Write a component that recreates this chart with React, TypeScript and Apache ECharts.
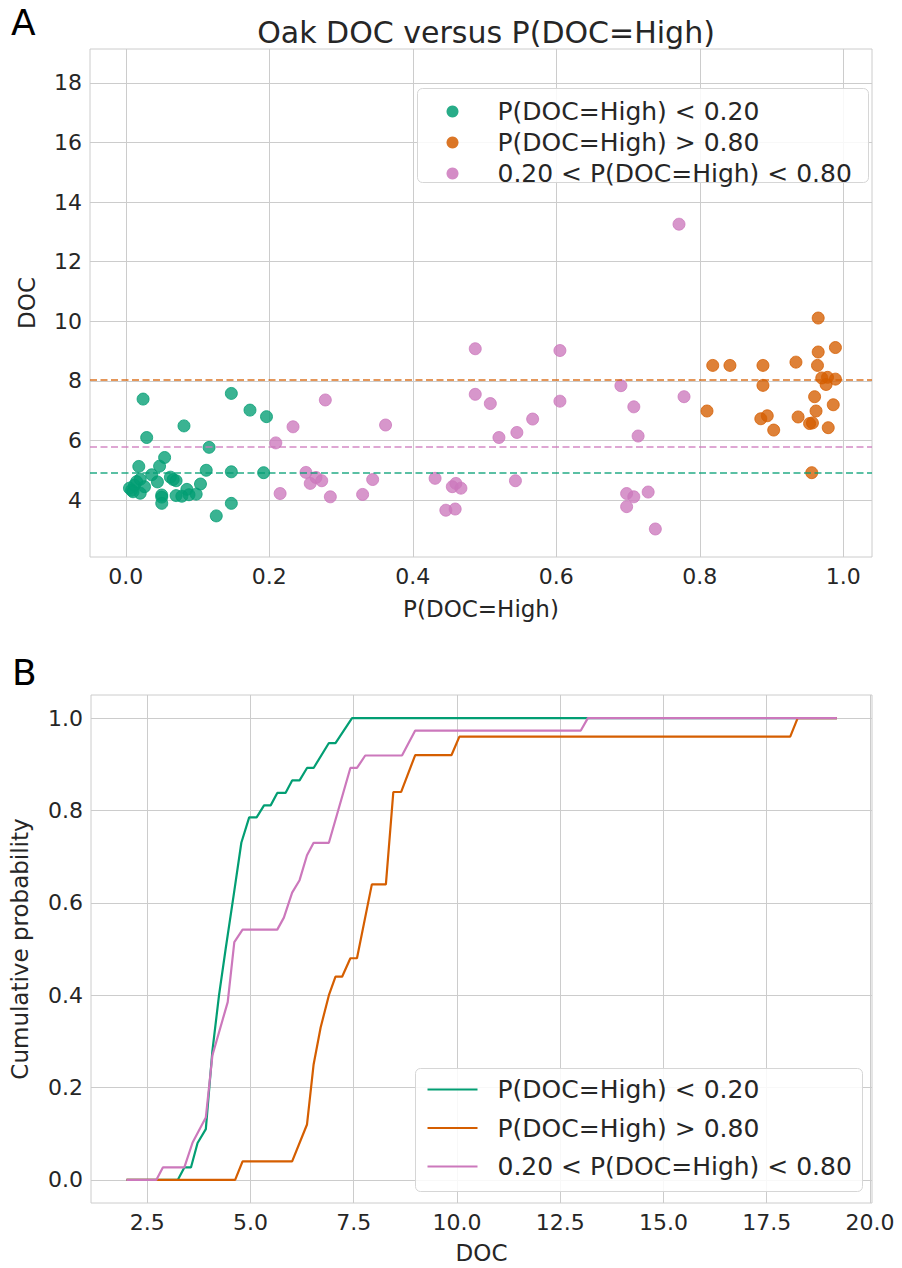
import React, { useEffect, useRef } from "react";
import * as echarts from "echarts";

// ---------- Data ----------
const GREEN = "#029e73";
const ORANGE = "#d55e00";
const PINK = "#cc78bc";

const legendNames = ["P(DOC=High) < 0.20", "P(DOC=High) > 0.80", "0.20 < P(DOC=High) < 0.80"];

// Panel A scatter: P(DOC=High) and DOC
const lowProb = [0.005, 0.008, 0.012, 0.015, 0.02, 0.02, 0.018, 0.024, 0.029, 0.026, 0.036, 0.044, 0.047, 0.054, 0.05, 0.05, 0.05, 0.062, 0.066, 0.07, 0.07, 0.081, 0.078, 0.085, 0.088, 0.098, 0.104, 0.112, 0.116, 0.126, 0.147, 0.147, 0.147, 0.173, 0.192, 0.196, 0.01];
const lowDoc = [4.4, 4.33, 4.5, 4.62, 4.7, 4.23, 5.13, 7.39, 6.1, 4.45, 4.85, 4.61, 5.14, 5.43, 4.17, 4.1, 3.89, 4.77, 4.69, 4.15, 4.65, 6.49, 4.13, 4.36, 4.18, 4.2, 4.54, 5.0, 5.77, 3.47, 7.58, 4.95, 3.89, 7.02, 4.92, 6.8, 4.28];

const highProb = [0.965, 0.989, 0.965, 0.818, 0.842, 0.888, 0.934, 0.964, 0.978, 0.989, 0.976, 0.888, 0.96, 0.986, 0.81, 0.962, 0.937, 0.894, 0.885, 0.953, 0.957, 0.903, 0.979, 0.956, 0.97];
const highDoc = [10.11, 9.12, 8.97, 8.52, 8.52, 8.52, 8.63, 8.52, 8.12, 8.06, 7.88, 7.85, 7.47, 7.2, 6.99, 6.99, 6.79, 6.83, 6.73, 6.57, 6.59, 6.35, 6.43, 4.92, 8.1];

const midProb = [0.209, 0.215, 0.233, 0.251, 0.257, 0.265, 0.273, 0.278, 0.285, 0.33, 0.344, 0.362, 0.431, 0.446, 0.459, 0.455, 0.46, 0.467, 0.487, 0.487, 0.508, 0.52, 0.543, 0.545, 0.567, 0.605, 0.605, 0.69, 0.698, 0.708, 0.698, 0.708, 0.714, 0.728, 0.738, 0.771, 0.778];
const midDoc = [5.92, 4.22, 6.46, 4.93, 4.56, 4.76, 4.65, 7.36, 4.11, 4.19, 4.69, 6.52, 4.73, 3.66, 3.7, 4.45, 4.56, 4.4, 9.08, 7.55, 7.24, 6.1, 4.65, 6.27, 6.72, 9.02, 7.32, 7.84, 4.22, 4.11, 3.78, 7.13, 6.15, 4.27, 3.03, 13.26, 7.47];

// Median DOC per group (dashed lines): low, high, mid
const medianDoc = [4.93, 8.03, 5.79];

// Panel B cumulative curves
const lowCdfX = [2.0, 3.24, 3.4, 3.56, 3.72, 3.92, 4.08, 4.24, 4.4, 4.6, 4.78, 4.97, 5.15, 5.33, 5.49, 5.65, 5.85, 6.01, 6.19, 6.37, 6.53, 6.9, 7.06, 7.46, 19.2];
const lowCdfY = [0, 0, 0.027, 0.027, 0.08, 0.11, 0.28, 0.4, 0.5, 0.62, 0.73, 0.785, 0.785, 0.811, 0.811, 0.838, 0.838, 0.865, 0.865, 0.892, 0.892, 0.946, 0.946, 1.0, 1.0];

const highCdfX = [2.0, 4.63, 4.81, 6.01, 6.37, 6.53, 6.7, 6.9, 7.06, 7.22, 7.42, 7.58, 7.94, 8.28, 8.46, 8.65, 8.99, 9.87, 10.06, 18.07, 18.25, 19.2];
const highCdfY = [0, 0, 0.04, 0.04, 0.12, 0.25, 0.33, 0.4, 0.44, 0.44, 0.48, 0.48, 0.64, 0.64, 0.84, 0.84, 0.92, 0.92, 0.96, 0.96, 1.0, 1.0];

const midCdfX = [2.0, 2.72, 2.88, 3.4, 3.6, 3.92, 4.08, 4.45, 4.61, 4.81, 5.65, 5.81, 6.01, 6.19, 6.37, 6.53, 6.9, 7.42, 7.58, 7.78, 8.67, 8.99, 13.0, 13.17, 19.2];
const midCdfY = [0, 0, 0.027, 0.027, 0.081, 0.135, 0.27, 0.385, 0.515, 0.542, 0.542, 0.568, 0.622, 0.649, 0.703, 0.73, 0.73, 0.892, 0.892, 0.919, 0.919, 0.973, 0.973, 1.0, 1.0];

// Tick labels
const probTicks = [0, 0.2, 0.4, 0.6, 0.8, 1.0];
const docTicksA = [4, 6, 8, 10, 12, 14, 16, 18];
const docTicksB = [2.5, 5, 7.5, 10, 12.5, 15, 17.5, 20];
const cumTicks = [0, 0.2, 0.4, 0.6, 0.8, 1.0];

const zip = (a: number[], b: number[]) => a.map((v, i) => [v, b[i]]);

const FONT = "DejaVu Sans";
const TXT = "#262626";
const GRID = "#cccccc";

function buildOption() {
  const axisCommon = (ticks: number[], fmt: (v: number) => string) => ({
    type: "value",
    axisLine: { show: false },
    axisTick: { show: false, customValues: ticks },
    axisLabel: { customValues: ticks, formatter: fmt, fontSize: 22, color: TXT, fontFamily: FONT },
    splitLine: { show: true, lineStyle: { color: GRID, width: 1 } },
    nameLocation: "middle",
    nameTextStyle: { fontSize: 23, color: TXT, fontFamily: FONT },
  });

  const scatter = (name: string, xs: number[], ys: number[], color: string, median: number) => ({
    name,
    type: "scatter",
    xAxisIndex: 0,
    yAxisIndex: 0,
    data: zip(xs, ys),
    symbolSize: 12,
    itemStyle: { color, opacity: 0.78, borderColor: color, borderWidth: 1 },
    markLine: {
      silent: true,
      symbol: "none",
      label: { show: false },
      lineStyle: { color, type: [7, 3.5], width: 2, opacity: 0.65 },
      data: [{ yAxis: median }],
    },
  });

  const line = (name: string, xs: number[], ys: number[], color: string) => ({
    name,
    type: "line",
    xAxisIndex: 1,
    yAxisIndex: 1,
    data: zip(xs, ys),
    showSymbol: false,
    symbol: "none",
    lineStyle: { color, width: 2.2 },
    itemStyle: { color },
  });

  const colors = [GREEN, ORANGE, PINK];
  const Z = 100;

  const legendA = {
    type: "group",
    left: 417,
    top: 88,
    z: Z,
    children: [
      { type: "rect", z: Z, shape: { x: 0, y: 0, width: 451, height: 94, r: 5 }, style: { fill: "rgba(255,255,255,0.85)", stroke: "#d6d6d6", lineWidth: 1 } },
      ...legendNames.flatMap((n, i) => [
        { type: "circle", z: Z + 1, shape: { cx: 35, cy: 23 + i * 31, r: 6 }, style: { fill: colors[i], opacity: 0.85 } },
        { type: "text", z: Z + 1, x: 80, y: 23 + i * 31, style: { text: n, fontSize: 25, fontFamily: FONT, fill: TXT, verticalAlign: "middle" } },
      ]),
    ],
  };

  const legendB = {
    type: "group",
    left: 415,
    top: 1068,
    z: Z,
    children: [
      { type: "rect", z: Z, shape: { x: 0, y: 0, width: 447, height: 123, r: 5 }, style: { fill: "rgba(255,255,255,0.85)", stroke: "#d6d6d6", lineWidth: 1 } },
      ...legendNames.flatMap((n, i) => [
        { type: "line", z: Z + 1, shape: { x1: 12, y1: 21 + i * 38.5, x2: 62, y2: 21 + i * 38.5 }, style: { stroke: colors[i], lineWidth: 2.2 } },
        { type: "text", z: Z + 1, x: 82, y: 21 + i * 38.5, style: { text: n, fontSize: 25, fontFamily: FONT, fill: TXT, verticalAlign: "middle" } },
      ]),
    ],
  };

  return {
    animation: false,
    backgroundColor: "#ffffff",
    textStyle: { fontFamily: FONT },
    title: {
      text: "Oak DOC versus P(DOC=High)",
      left: 481,
      top: 12,
      textAlign: "center",
      textStyle: { fontSize: 30, fontWeight: "normal", color: TXT, fontFamily: FONT },
    },
    grid: [
      { left: 90, top: 49, width: 782, height: 508, show: true, borderColor: GRID, borderWidth: 1, backgroundColor: "transparent" },
      { left: 90, top: 695, width: 782, height: 508, show: true, borderColor: GRID, borderWidth: 1, backgroundColor: "transparent" },
    ],
    xAxis: [
      { ...axisCommon(probTicks, (v: number) => v.toFixed(1)), gridIndex: 0, min: -0.05, max: 1.04, name: "P(DOC=High)", nameGap: 40 },
      { ...axisCommon(docTicksB, (v: number) => v.toFixed(1)), gridIndex: 1, min: 1.14, max: 20.05, name: "DOC", nameGap: 38 },
    ],
    yAxis: [
      { ...axisCommon(docTicksA, (v: number) => String(v)), gridIndex: 0, min: 2.09, max: 19.14, name: "DOC", nameGap: 52 },
      { ...axisCommon(cumTicks, (v: number) => v.toFixed(1)), gridIndex: 1, min: -0.05, max: 1.05, name: "Cumulative probability", nameGap: 60 },
    ],
    graphic: [
      { type: "text", left: 11, top: 4, style: { text: "A", fontSize: 36, fontFamily: FONT, fill: "#000" } },
      { type: "text", left: 12, top: 654, style: { text: "B", fontSize: 36, fontFamily: FONT, fill: "#000" } },
      legendA,
      legendB,
    ],
    series: [
      scatter(legendNames[0], lowProb, lowDoc, GREEN, medianDoc[0]),
      scatter(legendNames[1], highProb, highDoc, ORANGE, medianDoc[1]),
      scatter(legendNames[2], midProb, midDoc, PINK, medianDoc[2]),
      line(legendNames[0], lowCdfX, lowCdfY, GREEN),
      line(legendNames[1], highCdfX, highCdfY, ORANGE),
      line(legendNames[2], midCdfX, midCdfY, PINK),
    ],
  };
}

export default function App() {
  const ref = useRef<HTMLDivElement>(null);
  useEffect(() => {
    if (!ref.current) return;
    const chart = echarts.init(ref.current, undefined, { renderer: "svg" });
    chart.setOption(buildOption() as any);
    return () => chart.dispose();
  }, []);
  return <div ref={ref} style={{ position: "fixed", left: 0, top: 0, width: 902, height: 1268, background: "#fff" }} />;
}
